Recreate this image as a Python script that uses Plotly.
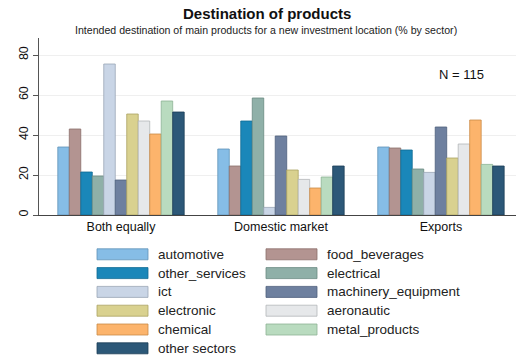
import plotly.graph_objects as go

categories = ["Both equally", "Domestic market", "Exports"]
sectors = ["automotive", "food_beverages", "other_services", "electrical", "ict",
           "machinery_equipment", "electronic", "aeronautic", "chemical",
           "metal_products", "other sectors"]
automotive = [34, 33, 34]
food_beverages = [43, 24.5, 33.5]
other_services = [21.5, 47, 32.5]
electrical = [19.5, 58.5, 23]
ict = [75.5, 3.8, 21.3]
machinery_equipment = [17.5, 39.5, 44]
electronic = [50.5, 22.5, 28.5]
aeronautic = [47, 17.8, 35.5]
chemical = [40.5, 13.5, 47.5]
metal_products = [57, 19, 25.3]
other_sectors = [51.5, 24.5, 24.5]
values = [automotive, food_beverages, other_services, electrical, ict,
          machinery_equipment, electronic, aeronautic, chemical,
          metal_products, other_sectors]
y_ticks = [0, 20, 40, 60, 80]

colors = ["#86bde6", "#b39491", "#1a87b9", "#8fb0a8", "#c9d5e6", "#6e809f",
          "#d9d18f", "#e6e8ea", "#fcb46c", "#b9dbbf", "#2c5878"]
outlines = ["#5f93b8", "#8a6e6b", "#106a92", "#6a8a82", "#9aa6b6", "#4e5f7c",
            "#aba363", "#b3b6b9", "#c98a48", "#8db395", "#1b3c55"]

W, H = 516, 362
L, R, T, B = 39, 516, 38, 215

def px(x):
    return (x - L) / (R - L)

def py(y):
    return (B - y) / (B - T)

fig = go.Figure()
for name, vals, c, oc in zip(sectors, values, colors, outlines):
    fig.add_trace(go.Bar(x=categories, y=vals, name=name,
                         marker=dict(color=c, line=dict(color=oc, width=0.8)),
                         showlegend=False))

shapes = []
annotations = []
# manual legend, two columns filled row-wise
col_sw = [97, 266]
col_tx = [156, 325]
row_y0 = 254.3
pitch = 18.8
for i, (name, c, oc) in enumerate(zip(sectors, colors, outlines)):
    col = i % 2
    row = i // 2
    yc = row_y0 + row * pitch
    shapes.append(dict(type="rect", xref="paper", yref="paper",
                       x0=px(col_sw[col]), x1=px(col_sw[col] + 51),
                       y0=py(yc - 5.5), y1=py(yc + 5.5),
                       fillcolor=c, line=dict(color=oc, width=0.8)))
    annotations.append(dict(text=name, xref="paper", yref="paper",
                            x=px(col_tx[col]), y=py(yc), xanchor="left",
                            yanchor="middle", showarrow=False,
                            font=dict(size=13.5, color="#222")))

annotations.append(dict(text="<b>Destination of products</b>", xref="paper", yref="paper",
                        x=px(267), y=py(14), xanchor="center", yanchor="middle",
                        showarrow=False, font=dict(size=15, color="#111")))
annotations.append(dict(text="Intended destination of main products for a new investment location (% by sector)",
                        xref="paper", yref="paper", x=px(266), y=py(30),
                        xanchor="center", yanchor="middle", showarrow=False,
                        font=dict(size=10.6, color="#222")))
annotations.append(dict(text="N = 115", xref="paper", yref="paper",
                        x=px(486), y=py(74), xanchor="right", yanchor="middle",
                        showarrow=False, font=dict(size=13, color="#111")))

fig.update_layout(
    width=W, height=H,
    margin=dict(l=L, r=W - R, t=T, b=H - B),
    paper_bgcolor="white", plot_bgcolor="white",
    barmode="group", bargap=0.21, bargroupgap=0,
    font=dict(family="Liberation Sans, Arial, sans-serif", color="#222"),
    shapes=shapes, annotations=annotations,
    xaxis=dict(range=[-0.5125, 2.469], showline=True, linecolor="#444", linewidth=1,
               ticks="", tickfont=dict(size=12.5, color="#111"), showgrid=False),
    yaxis=dict(range=[0, 88.5], tickvals=y_ticks, showline=True, linecolor="#555",
               linewidth=1, ticks="outside", ticklen=5, tickcolor="#555",
               tickangle=-90, tickfont=dict(size=12.5, color="#111"),
               showgrid=True, gridcolor="#efefef", gridwidth=1, zeroline=False),
)

fig.write_html("out.html", config={"displayModeBar": False},
               post_script="document.body.style.margin='0';document.body.style.overflow='hidden';")
